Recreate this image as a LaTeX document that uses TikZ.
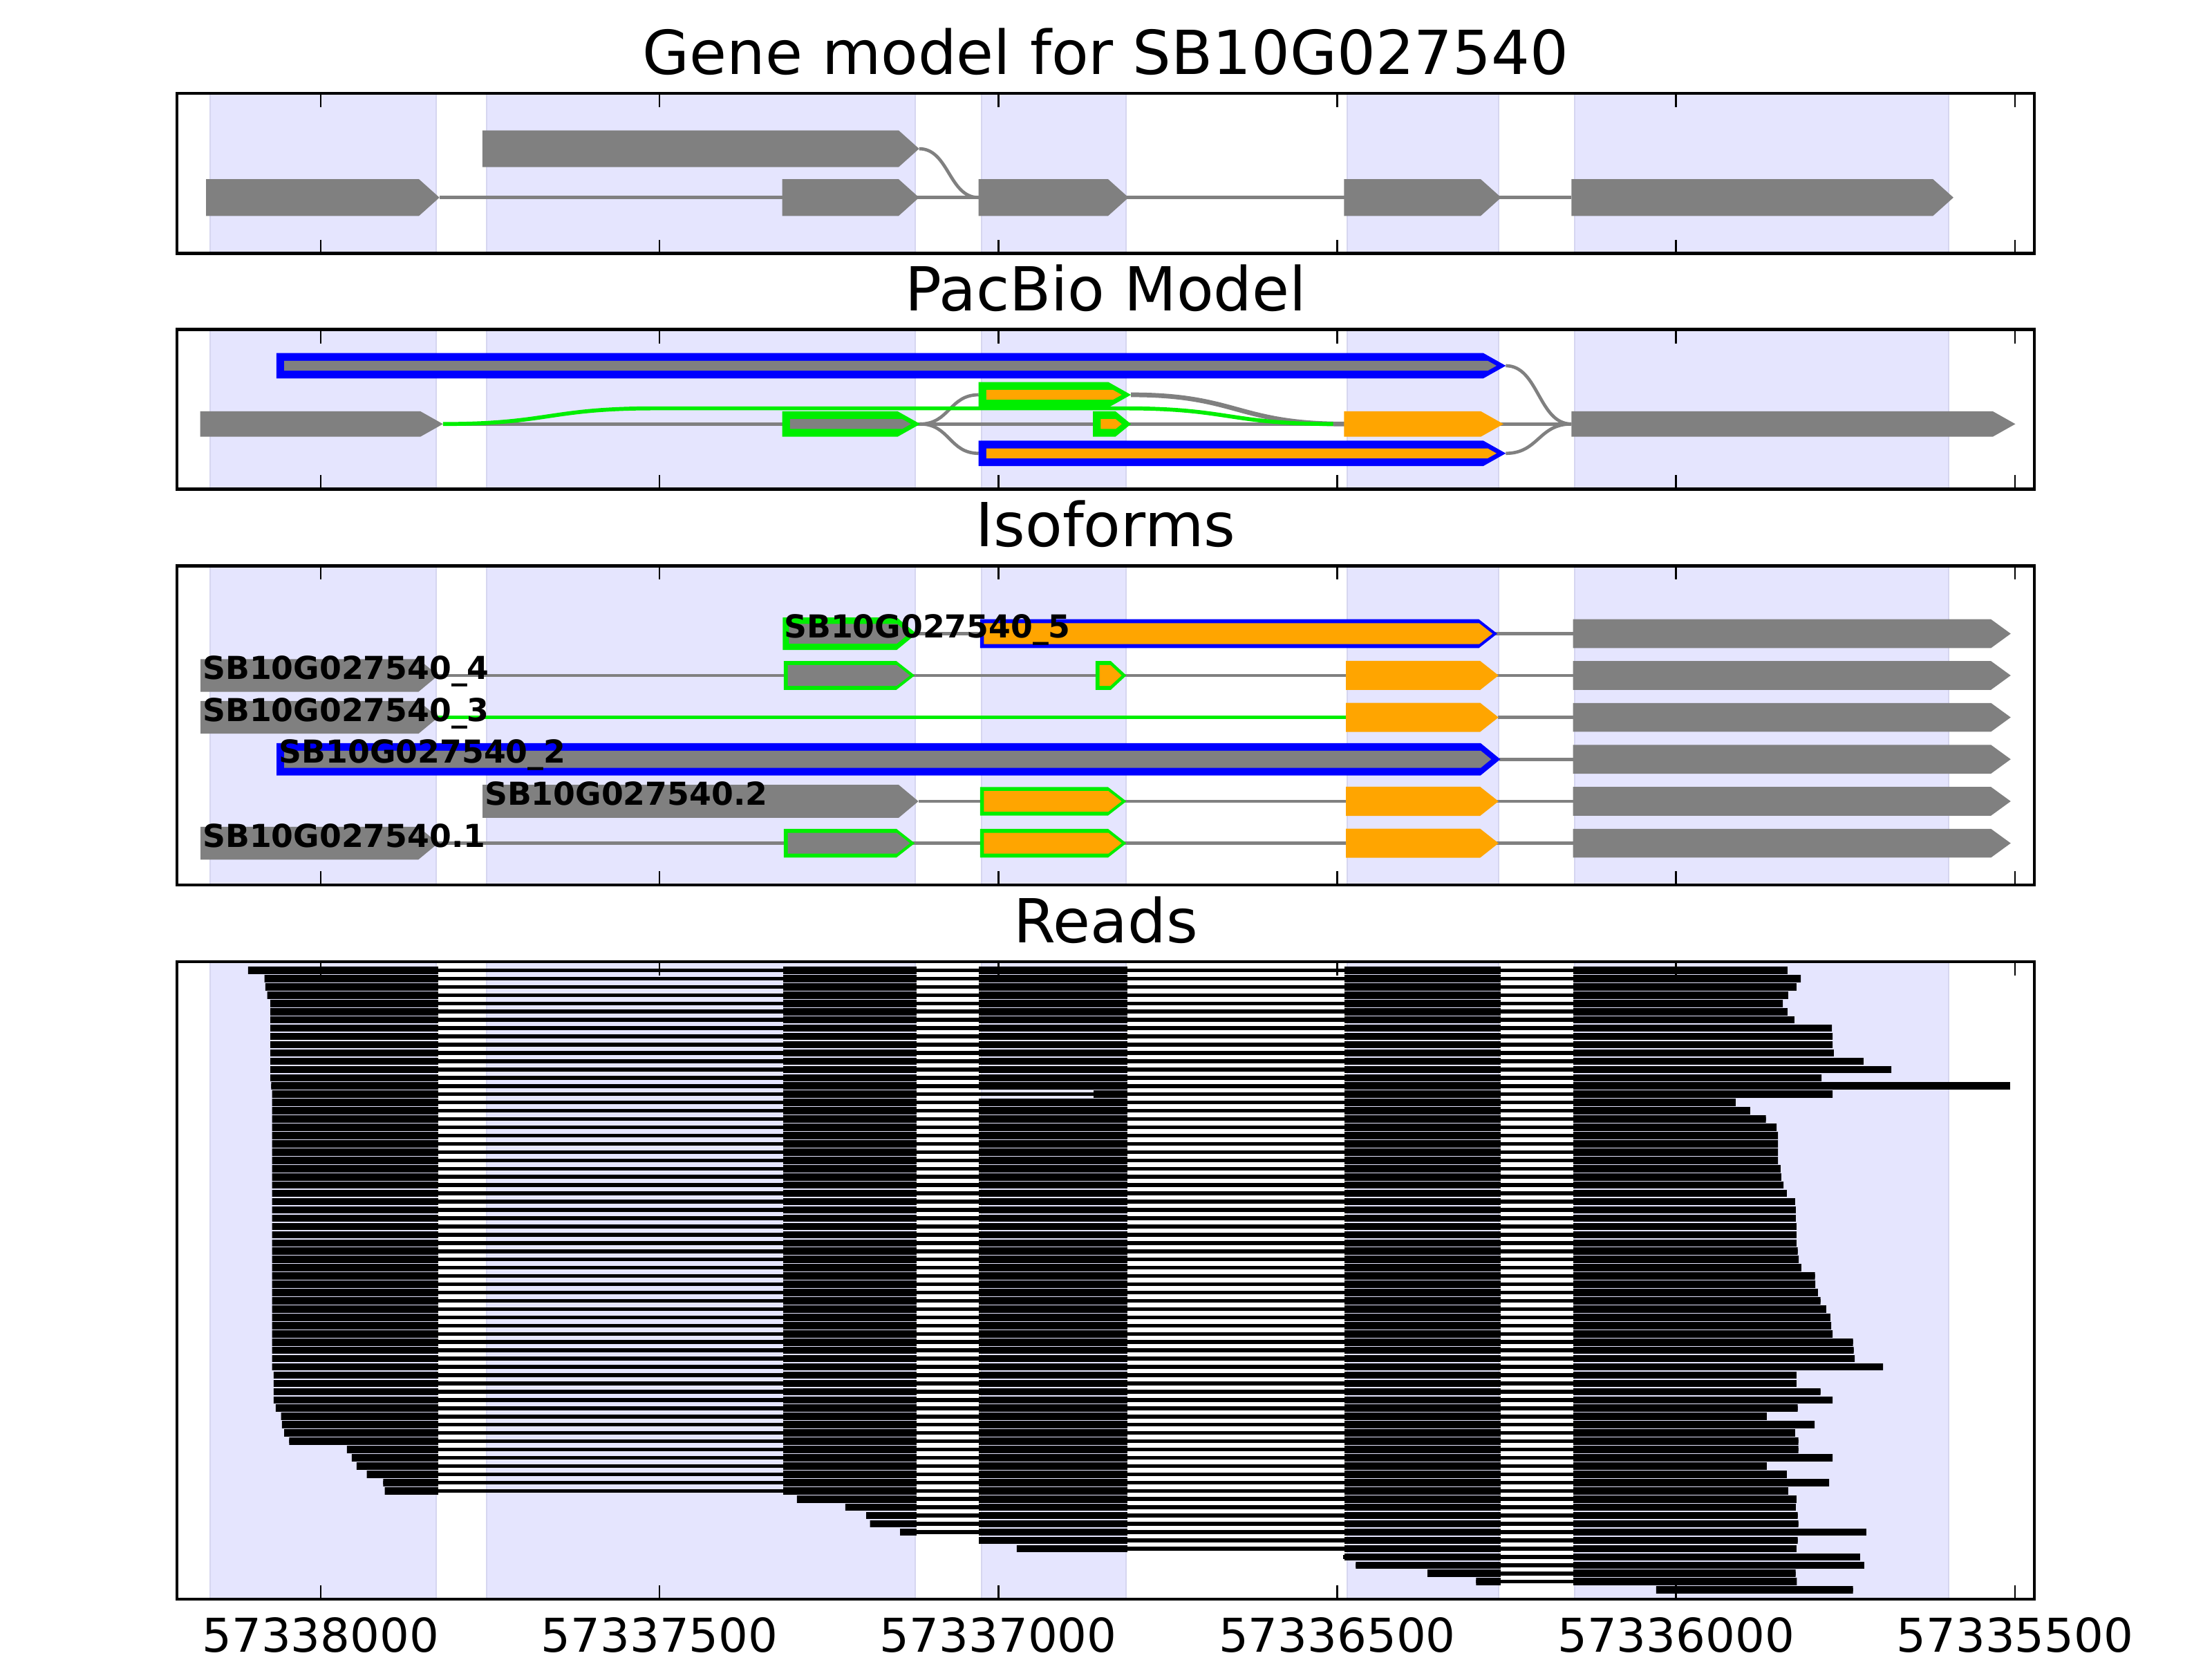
\documentclass[tikz,border=0pt]{standalone}
\usepackage{fontspec}
\setmainfont{DejaVu Sans}

\definecolor{exongray}{RGB}{128,128,128}
\definecolor{isoorange}{RGB}{255,165,0}
\definecolor{isogreen}{RGB}{0,238,0}
\definecolor{isoblue}{RGB}{0,0,255}
\definecolor{spanfill}{RGB}{229,229,254}
\definecolor{spanedge}{RGB}{214,214,240}

% exon as a right-pointing block: x1, x2, y, half height, tip, colour
\newcommand{\pent}[6]{\fill[#6] (#1,#3-#4) -- (#2-#5,#3-#4) -- (#2,#3) -- (#2-#5,#3+#4) -- (#1,#3+#4) -- cycle;}
% same block with a coloured rim: ..., rim colour, fill colour, rim width
\newcommand{\rimpent}[8]{%
  \pent{#1}{#2}{#3}{#4}{#5}{#6}
  \pgfmathsetmacro\rimA{#1+#8}\pgfmathsetmacro\rimB{#2-1.2*#8}%
  \pgfmathsetmacro\rimH{#4-#8}\pgfmathsetmacro\rimT{#5*(#4-#8)/#4}%
  \pent{\rimA}{\rimB}{#3}{\rimH}{\rimT}{#7}}

\begin{document}
\begin{tikzpicture}[x=1pt, y=-1pt,
    intron/.style={draw=exongray, line width=2.3},
    readline/.style={draw=black, line width=2.7},
    panelframe/.style={draw=black, line width=2.3},
    tickmark/.style={draw=black, line width=1.3},
    spanbox/.style={fill=spanfill, draw=spanedge, line width=1},
    paneltitle/.style={font=\fontsize{43}{50}\selectfont, anchor=base, inner sep=0pt},
    isolabel/.style={font=\bfseries\fontsize{22.4}{26}\selectfont, anchor=base west, inner sep=0pt},
    ticklabel/.style={font=\fontsize{33}{38}\selectfont, anchor=base, inner sep=0pt}
  ]
  \useasboundingbox (0,0) rectangle (1568,1176);

  % exon spans behind every panel
  \foreach \pt/\pb in {66.1/179.6, 233.6/346.6, 401.0/627.2, 681.6/1133.3}
    \foreach \a/\b in {148.8/309.3, 344.8/648.8, 695.6/798.2, 955.0/1062.2, 1116.0/1381.5}
      \filldraw[spanbox] (\a,\pt) rectangle (\b,\pb);

  % gene model
  \node[paneltitle] (titlegene) at (783.75,52.6) {Gene model for SB10G027540};
  \draw[intron] (311.5,140) -- (1113.9,140);
  \draw[intron] (651.5,105.4) .. controls (672.6,105.4) and (672.6,140) .. (693.7,140);
  \pent{341.9}{651.5}{105.4}{13}{14.5}{exongray}
  \pent{146.1}{311.5}{140}{13}{14.5}{exongray}
  \pent{554.5}{651.5}{140}{13}{14.5}{exongray}
  \pent{693.7}{800.0}{140}{13}{14.5}{exongray}
  \pent{952.7}{1064.1}{140}{13}{14.5}{exongray}
  \pent{1113.9}{1384.7}{140}{13}{14.5}{exongray}

  % pacbio model
  \node[paneltitle] (titlepacbio) at (783.75,220.1) {PacBio Model};
  \draw[intron] (314,300.5) -- (1113.9,300.5);
  \draw[intron] (652.3,300.5) .. controls (673,300.5) and (673,279.8) .. (693.7,279.8);
  \draw[intron] (652.3,300.5) .. controls (673,300.5) and (673,321.3) .. (693.7,321.3);
  \draw[intron] (1067.4,259.2) .. controls (1090.6,259.2) and (1090.6,300.5) .. (1113.9,300.5);
  \draw[intron] (1067.4,321.3) .. controls (1090.6,321.3) and (1090.6,300.5) .. (1113.9,300.5);
  \draw[intron, line width=3.3] (801.7,279.8) .. controls (877,279.8) and (877,300.5) .. (953,300.5);
  \draw[isogreen, line width=2.8] (314,300.5) .. controls (389,300.5) and (389,289.4) .. (464,289.4)
    -- (797.5,289.4) .. controls (871,289.4) and (871,300.5) .. (945,300.5);
  \pent{141.9}{314}{300.5}{9}{16}{exongray}
  \rimpent{195.9}{1067.4}{259.2}{9}{16}{isoblue}{exongray}{5.5}
  \rimpent{693.7}{801.7}{279.8}{9}{16}{isogreen}{isoorange}{5.5}
  \rimpent{554.5}{652.3}{300.5}{9}{16}{isogreen}{exongray}{5.5}
  \rimpent{774.7}{801.7}{300.5}{9}{11}{isogreen}{isoorange}{5.5}
  \pent{952.7}{1065.7}{300.5}{9}{16}{isoorange}
  \pent{1113.9}{1428.6}{300.5}{9}{16}{exongray}
  \rimpent{693.7}{1067.4}{321.3}{9}{16}{isoblue}{isoorange}{5.5}

  % isoforms
  \node[paneltitle] (titleiso) at (783.75,387.5) {Isoforms};
  \draw[intron] (649,449.1) -- (1115.1,449.1);
  \rimpent{554.8}{649.7}{449.1}{11.5}{14}{isogreen}{exongray}{4.5}
  \rimpent{694.7}{1061.3}{449.1}{10.2}{13}{isoblue}{isoorange}{2.8}

  \draw[intron] (310,478.7) -- (1115.1,478.7);
  \pent{142.2}{310.6}{478.7}{11.6}{14}{exongray}
  \rimpent{555.6}{648.4}{478.7}{10.2}{13}{isogreen}{exongray}{2.8}
  \rimpent{776.6}{798.4}{478.7}{10.2}{11}{isogreen}{isoorange}{2.8}
  \pent{954.1}{1062.2}{478.7}{10.3}{13}{isoorange}

  \draw[intron] (1062,508.4) -- (1115.1,508.4);
  \draw[isogreen, line width=2.6] (310,508.4) -- (955,508.4);
  \pent{142.2}{310.6}{508.4}{11.6}{14}{exongray}
  \pent{954.1}{1062.2}{508.4}{10.3}{13}{isoorange}

  \draw[intron] (1063,538.1) -- (1115.1,538.1);
  \rimpent{196.0}{1063.5}{538.1}{11.45}{14}{isoblue}{exongray}{5.4}

  \draw[intron] (651,567.9) -- (1115.1,567.9);
  \pent{342.1}{651}{567.9}{11.7}{14}{exongray}
  \rimpent{694.7}{798.4}{567.9}{10.1}{13}{isogreen}{isoorange}{2.8}
  \pent{954.1}{1062.2}{567.9}{10.3}{13}{isoorange}

  \draw[intron] (310,597.6) -- (1115.1,597.6);
  \pent{142.2}{310.6}{597.6}{11.6}{14}{exongray}
  \rimpent{555.6}{648.4}{597.6}{10.2}{13}{isogreen}{exongray}{2.8}
  \rimpent{694.7}{798.4}{597.6}{10.2}{13}{isogreen}{isoorange}{2.8}
  \pent{954.1}{1062.2}{597.6}{10.3}{13}{isoorange}

  \foreach \y in {449.1, 478.7, 508.4, 538.1, 567.9, 597.6}{
    \pent{1115.1}{1425.3}{\y}{10.2}{14}{exongray}
  }

  \node[isolabel] (iso5) at (555.6,451.8) {SB10G027540\_5};
  \node[isolabel] (iso4) at (143.5,481.4) {SB10G027540\_4};
  \node[isolabel] (iso3) at (143.5,511.1) {SB10G027540\_3};
  \node[isolabel] (iso2) at (197.7,540.8) {SB10G027540\_2};
  \node[isolabel] (isodot2) at (343.4,570.6) {SB10G027540.2};
  \node[isolabel] (isodot1) at (143.5,600.3) {SB10G027540.1};

  % reads: start / end, one row each
  \node[paneltitle] (titlereads) at (783.75,668.1) {Reads};
  \foreach \s/\e [count=\i from 0] in {
      175.8/1267.1, 187.5/1276.5, 188.1/1273.4, 189.5/1267.5, 191.6/1263.8,
      191.6/1267.1, 191.6/1272.0, 191.6/1298.5, 191.6/1299.0, 191.6/1299.0,
      191.6/1299.9, 191.6/1321.0, 191.6/1340.7, 191.6/1291.2, 192.3/1424.8,
      192.9/1299.0, 192.9/1230.3, 192.9/1240.6, 192.9/1251.8, 192.9/1259.3,
      192.9/1260.3, 192.9/1260.3, 192.9/1260.3, 192.9/1260.3, 192.9/1262.1,
      192.9/1262.6, 192.9/1264.3, 192.9/1266.6, 192.9/1272.5, 192.9/1272.9,
      192.9/1272.9, 192.9/1273.4, 192.9/1273.4, 192.9/1273.4, 192.9/1274.3,
      192.9/1275.0, 192.9/1276.9, 192.9/1286.5, 192.9/1286.8, 192.9/1288.6,
      192.9/1290.5, 192.9/1294.5, 192.9/1297.5, 192.9/1298.0, 192.9/1299.0,
      192.9/1313.5, 192.9/1314.0, 192.9/1314.7, 192.9/1334.8, 194.0/1273.4,
      194.0/1273.4, 194.0/1290.5, 194.0/1299.0, 195.4/1274.3, 199.2/1252.3,
      199.8/1286.3, 201.5/1272.5, 205.0/1274.8, 245.9/1274.8, 249.3/1299.0,
      252.8/1252.3, 260.0/1266.6, 271.7/1296.6, 272.7/1267.5, 564.9/1273.4,
      599.2/1272.9, 614.0/1274.3, 616.7/1274.8, 638.0/1322.9, 693.8/1274.3,
      720.7/1273.4, 951.9/1318.5, 961.0/1321.5, 1011.9/1272.8, 1046.3/1273.7,
      1174.0/1313.5} {
    \pgfmathsetmacro\ry{687.7+5.855*\i}
    \pgfmathsetmacro\cx{\i==15 ? 775.4 : 693.8}
    \begin{scope}
      \clip (\s,\ry-4) rectangle (\e,\ry+4);
      \draw[readline] (\s,\ry) -- (\e,\ry);
      \foreach \a/\b in {100/310.5, 555.2/649.7, \cx/799.4, 952.9/1063.8, 1115/1500}
        \fill (\a,\ry-2.6) rectangle (\b,\ry+2.6);
    \end{scope}
  }

  % frames and ticks
  \foreach \pt/\pb in {66.1/179.6, 233.6/346.6, 401.0/627.2, 681.6/1133.3} {
    \draw[panelframe] (125.5,\pt) rectangle (1442,\pb);
    \foreach \k in {0,...,5} {
      \draw[tickmark] (227.3+240.2*\k,\pt) -- ++(0,9.8);
      \draw[tickmark] (227.3+240.2*\k,\pb) -- ++(0,-9.8);
    }
  }
  \foreach \k/\lab in {0/57338000, 1/57337500, 2/57337000, 3/57336500, 4/57336000, 5/57335500}
    \node[ticklabel] (tick\k) at (227.3+240.2*\k,1171) {\lab};
\end{tikzpicture}
\end{document}
